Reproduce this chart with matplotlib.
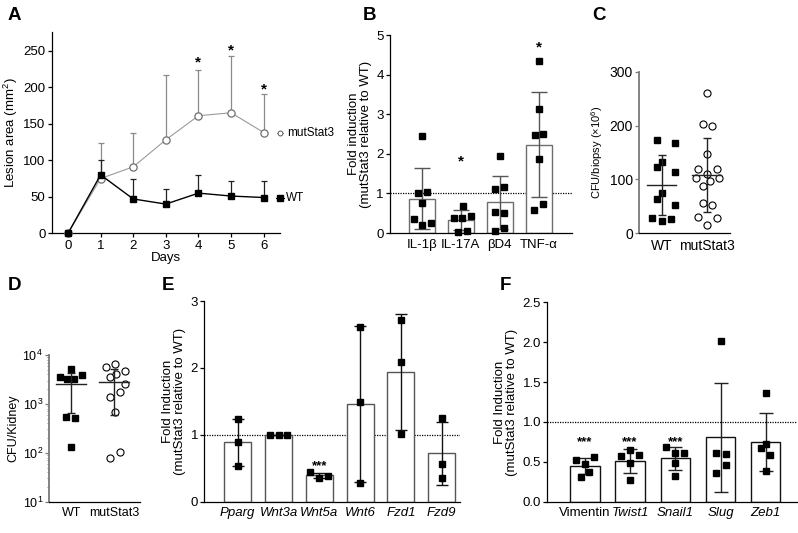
import numpy as np
import matplotlib
matplotlib.use("Agg")
import matplotlib.pyplot as plt

plt.rcParams['font.family'] = ['Liberation Sans', 'DejaVu Sans']
plt.rcParams['mathtext.fontset'] = 'custom'
plt.rcParams['mathtext.rm'] = 'Liberation Sans'
plt.rcParams['mathtext.it'] = 'Liberation Sans:italic'
plt.rcParams['font.size'] = 9
plt.rcParams['axes.linewidth'] = 0.9
plt.rcParams['xtick.major.width'] = 0.9
plt.rcParams['ytick.major.width'] = 0.9
plt.rcParams['xtick.major.size'] = 3
plt.rcParams['ytick.major.size'] = 3

# ---------------- data ----------------
# Panel A
a_days = [0, 1, 2, 3, 4, 5, 6]
a_wt = [0, 80, 47, 40, 55, 51, 49]
a_wt_err = [0, 21, 28, 20, 25, 21, 23]
a_mut = [0, 75, 91, 128, 161, 165, 138]
a_mut_err = [0, 49, 47, 89, 63, 78, 53]
a_star_days = [4, 5, 6]
a_star_y = [241, 257, 203]

# Panel B
b_labels = ['IL-1β', 'IL-17A', 'βD4', 'TNF-α']
b_points = [
    [2.45, 1.00, 1.04, 0.76, 0.36, 0.20, 0.26],
    [0.69, 0.39, 0.37, 0.43, 0.03, 0.06],
    [1.94, 1.10, 1.17, 0.54, 0.50, 0.04, 0.12],
    [4.34, 3.14, 2.47, 2.51, 1.86, 0.57, 0.72],
]
b_jitter = [
    [0, -0.10, 0.13, 0, -0.20, 0, 0.23],
    [0.05, -0.18, 0.03, 0.26, -0.08, 0.15],
    [0, -0.13, 0.11, -0.13, 0.11, -0.13, 0.11],
    [0, 0, -0.11, 0.12, 0, -0.12, 0.12],
]
b_star_y = [None, 1.94, None, 4.80]

# Panel C
c_labels = ['WT', 'mutStat3']
c_wt = [174, 168, 132, 124, 113, 75, 64, 53, 28, 23, 26.5]
c_wt_jit = [-0.11, 0.29, 0, -0.11, 0.29, 0, -0.11, 0.29, -0.22, 0, 0.22]
c_mut = [260, 203, 200, 147, 119, 119, 111, 103, 103, 98, 88, 56, 53, 30, 29, 15]
c_mut_jit = [0, -0.09, 0.13, 0, -0.20, 0.24, 0, -0.24, 0.27, 0.07, -0.07,
             -0.09, 0.13, -0.20, 0.24, 0]

# Panel D
d_labels = ['WT', 'mutStat3']
d_wt = [5090, 3600, 3190, 3240, 3850, 543, 518, 130]
d_wt_jit = [0, -0.26, -0.09, 0.07, 0.26, -0.12, 0.09, 0]
d_mut = [5770, 6440, 3600, 4080, 4710, 2550, 1780, 1365, 673, 77, 102]
d_mut_jit = [-0.19, 0.02, -0.09, 0.05, 0.24, 0.24, 0.14, -0.09, 0.02, -0.09, 0.14]

# Panel E
e_labels = ['Pparg', 'Wnt3a', 'Wnt5a', 'Wnt6', 'Fzd1', 'Fzd9']
e_points = [
    [1.236, 0.887, 0.538],
    [1.0, 1.0, 1.0],
    [0.438, 0.359, 0.389],
    [2.616, 1.495, 0.274],
    [2.716, 2.083, 1.006],
    [1.256, 0.558, 0.359],
]
e_jitter = [
    [0, 0, 0],
    [-0.22, 0, 0.22],
    [-0.22, 0, 0.22],
    [0, 0, 0],
    [0, 0, 0],
    [0, 0, 0],
]
e_star_y = [None, None, 0.60, None, None, None]

# Panel F
f_labels = ['Vimentin', 'Twist1', 'Snail1', 'Slug', 'Zeb1']
f_italic = [False, True, True, True, True]
f_points = [
    [0.518, 0.476, 0.556, 0.376, 0.313],
    [0.569, 0.648, 0.589, 0.489, 0.268],
    [0.686, 0.610, 0.610, 0.485, 0.326],
    [2.010, 0.610, 0.594, 0.464, 0.360],
    [1.358, 0.723, 0.669, 0.589, 0.385],
]
f_jitter = [
    [-0.20, 0, 0.20, 0.09, -0.09],
    [-0.20, 0, 0.20, 0, 0],
    [-0.20, 0, 0.20, 0, 0],
    [0, -0.09, 0.11, 0.11, -0.09],
    [0, 0, -0.11, 0.09, 0],
]
f_star_y = [0.81, 0.81, 0.81, None, None]

# ---------------- layout helpers ----------------
W, H = 798, 533
fig = plt.figure(figsize=(W / 100, H / 100), dpi=100)
TICK_FS = 9.5
LAB_FS = 9.5


def add_ax(left, top, right, bottom):
    return fig.add_axes([left / W, 1 - bottom / H, (right - left) / W, (bottom - top) / H])


def style(ax):
    ax.spines['top'].set_visible(False)
    ax.spines['right'].set_visible(False)
    ax.tick_params(labelsize=TICK_FS, pad=1.5)


def star(ax, x, y, text, fs=10):
    ax.annotate(text, xy=(x, y), xytext=(0, -0.58 * fs), textcoords='offset points',
                ha='center', va='baseline', fontsize=fs, fontweight='bold', clip_on=False)


def panel_label(x, y, s):
    fig.text(x / W, 1 - y / H, s, fontsize=13.5, fontweight='bold', ha='left', va='center')


# ---------------- Panel A ----------------
ax = add_ax(51.7, 31.7, 280, 233.3)
style(ax)
ax.errorbar(a_days, a_mut, yerr=[np.zeros(len(a_mut_err)), a_mut_err], fmt='none',
            ecolor='#8a8a8a', elinewidth=0.9, capsize=2, capthick=0.9, clip_on=False)
ax.errorbar(a_days, a_wt, yerr=[np.zeros(len(a_wt_err)), a_wt_err], fmt='none',
            ecolor='#222222', elinewidth=0.9, capsize=2, capthick=0.9, clip_on=False)
ax.plot(a_days, a_mut, color='#9a9a9a', lw=0.8, marker='o', ms=5.2, mfc='white',
        mec='#6f6f6f', mew=0.9, clip_on=False, zorder=3)
ax.plot(a_days, a_wt, color='black', lw=1.0, marker='s', ms=5, mfc='black', mec='black',
        clip_on=False, zorder=4)
for d, y in zip(a_star_days, a_star_y):
    star(ax, d, y, '*', fs=11)
ax.set_xlim(-0.5, 6.5)
ax.set_ylim(0, 276)
ax.set_xticks(a_days)
ax.set_yticks([0, 50, 100, 150, 200, 250])
ax.set_xlabel('Days', fontsize=LAB_FS, labelpad=0)
ax.set_ylabel('Lesion area (mm$^{2}$)', fontsize=LAB_FS, labelpad=2)
# legend entries at the line ends
tr = ax.get_yaxis_transform()
ax.plot([0.988, 1.012], [a_mut[-1]] * 2, color='#777777', lw=0.6, transform=tr, clip_on=False)
ax.plot([1.0], [a_mut[-1]], marker='o', ms=3.5, mfc='white', mec='#555555', mew=0.7,
        transform=tr, clip_on=False)
ax.text(1.03, a_mut[-1], 'mutStat3', transform=tr, va='center', ha='left', fontsize=8.5)
ax.plot([0.982, 1.018], [a_wt[-1]] * 2, color='black', lw=0.8, transform=tr, clip_on=False)
ax.plot([1.0], [a_wt[-1]], marker='s', ms=4, mfc='black', mec='black',
        transform=tr, clip_on=False)
ax.text(1.026, a_wt[-1], 'WT', transform=tr, va='center', ha='left', fontsize=8.5)


# ---------------- bar + points helper ----------------
def bar_panel(ax, labels, points, jitter, width, edge, ecol, capsize, ms, stars, star_text, star_fs):
    x = np.arange(len(labels))
    means = [np.mean(p) for p in points]
    sds = [np.std(p, ddof=1) for p in points]
    ax.bar(x, means, width=width, facecolor='white', edgecolor=edge, linewidth=1.0, zorder=1)
    ax.errorbar(x, means, yerr=sds, fmt='none', ecolor=ecol, elinewidth=1.0,
                capsize=capsize, capthick=1.0, zorder=2)
    for i, (p, j) in enumerate(zip(points, jitter)):
        ax.plot(np.array(j) + i, p, linestyle='none', marker='s', ms=ms, mfc='black',
                mec='black', zorder=3, clip_on=False)
    for i, s in enumerate(stars):
        if s is not None:
            star(ax, i, s, star_text, fs=star_fs)
    ax.axhline(1, color='black', lw=0.9, ls=(0, (1, 1)), zorder=0.5)
    ax.set_xticks(x)
    ax.set_xticklabels(labels)
    ax.tick_params(axis='x', length=0, pad=4)


# ---------------- Panel B ----------------
ax = add_ax(390, 35, 572, 233)
style(ax)
bar_panel(ax, b_labels, b_points, b_jitter, 0.67, '#6e6e6e', '#555555', 5.5, 4.4,
          b_star_y, '*', 11)
ax.set_xlim(-0.81, 3.85)
ax.set_ylim(0, 5)
ax.set_yticks([0, 1, 2, 3, 4, 5])
ax.set_ylabel('Fold induction\n(mutStat3 relative to WT)', fontsize=LAB_FS, labelpad=3,
              linespacing=1.0)


# ---------------- scatter panel helper ----------------
def scatter_panel(ax, groups, jits, mean_half, capsize, ms):
    for i, (vals, jit) in enumerate(zip(groups, jits)):
        vals = np.array(vals)
        m = vals.mean()
        sd = vals.std(ddof=1)
        if i == 0:
            ax.plot(np.array(jit) + i, vals, ls='none', marker='s', ms=ms, mfc='black',
                    mec='black', zorder=2, clip_on=False)
        else:
            ax.plot(np.array(jit) + i, vals, ls='none', marker='o', ms=ms + 0.3, mfc='white',
                    mec='black', mew=0.8, zorder=2, clip_on=False)
        ax.plot([i - mean_half, i + mean_half], [m, m], color='#222222', lw=1.0, zorder=3)
        ax.errorbar([i], [m], yerr=[[sd], [sd]], fmt='none', ecolor='#222222', elinewidth=1.0,
                    capsize=capsize, capthick=1.0, zorder=3)
    ax.spines['left'].set_color('#7a7a7a')
    ax.spines['left'].set_linewidth(1.3)
    ax.tick_params(axis='x', length=0, pad=4)
    ax.tick_params(axis='y', color='#7a7a7a')


# ---------------- Panel C ----------------
ax = add_ax(639, 71.7, 730, 233.3)
style(ax)
scatter_panel(ax, [c_wt, c_mut], [c_wt_jit, c_mut_jit], 0.33, 3.2, 4.8)
ax.set_xlim(-0.5, 1.52)
ax.set_ylim(0, 300)
ax.set_xticks([0, 1])
ax.set_xticklabels(c_labels, fontsize=10)
ax.set_yticks([0, 100, 200, 300])
ax.tick_params(axis='y', labelsize=10)
ax.set_ylabel('CFU/biopsy (×10$^{6}$)', fontsize=8, labelpad=3)

# ---------------- Panel D ----------------
ax = add_ax(49.3, 355, 140, 501.7)
style(ax)
ax.set_yscale('log')
scatter_panel(ax, [d_wt, d_mut], [d_wt_jit, d_mut_jit], 0.35, 3.0, 4.8)
ax.set_xlim(-0.51, 1.6)
ax.set_ylim(10, 1e4)
ax.set_xticks([0, 1])
ax.set_xticklabels(d_labels, fontsize=9)
ax.set_yticks([10, 100, 1000, 10000])
ax.set_yticklabels(['10$^{1}$', '10$^{2}$', '10$^{3}$', '10$^{4}$'])
ax.tick_params(axis='y', which='major', labelsize=9, length=3)
ax.tick_params(axis='y', which='minor', length=1.8, color='#7a7a7a', width=0.6)
ax.set_ylabel('CFU/Kidney', fontsize=9, labelpad=2)

# ---------------- Panel E ----------------
ax = add_ax(204.3, 301, 460, 501.7)
style(ax)
bar_panel(ax, e_labels, e_points, e_jitter, 0.66, '#555555', '#111111', 4.5, 4.6,
          e_star_y, '***', 9.5)
ax.set_xlim(-0.82, 5.45)
ax.set_ylim(0, 3)
ax.set_yticks([0, 1, 2, 3])
for lbl in ax.get_xticklabels():
    lbl.set_style('italic')
ax.set_ylabel('Fold Induction\n(mutStat3 relative to WT)', fontsize=LAB_FS, labelpad=3,
              linespacing=1.0)

# ---------------- Panel F ----------------
ax = add_ax(547.3, 302.3, 797, 501.7)
style(ax)
bar_panel(ax, f_labels, f_points, f_jitter, 0.65, '#111111', '#222222', 5.0, 4.4,
          f_star_y, '***', 9.5)
ax.set_xlim(-0.83, 4.69)
ax.set_ylim(0, 2.5)
ax.set_yticks([0, 0.5, 1.0, 1.5, 2.0, 2.5])
ax.set_yticklabels(['0.0', '0.5', '1.0', '1.5', '2.0', '2.5'])
for lbl, it in zip(ax.get_xticklabels(), f_italic):
    if it:
        lbl.set_style('italic')
ax.set_ylabel('Fold Induction\n(mutStat3 relative to WT)', fontsize=LAB_FS, labelpad=3,
              linespacing=1.0)

# ---------------- panel letters ----------------
panel_label(8, 15, 'A')
panel_label(363, 15, 'B')
panel_label(592, 15, 'C')
panel_label(8, 285, 'D')
panel_label(162, 285, 'E')
panel_label(500, 285, 'F')

fig.savefig('out.png', dpi=100)
